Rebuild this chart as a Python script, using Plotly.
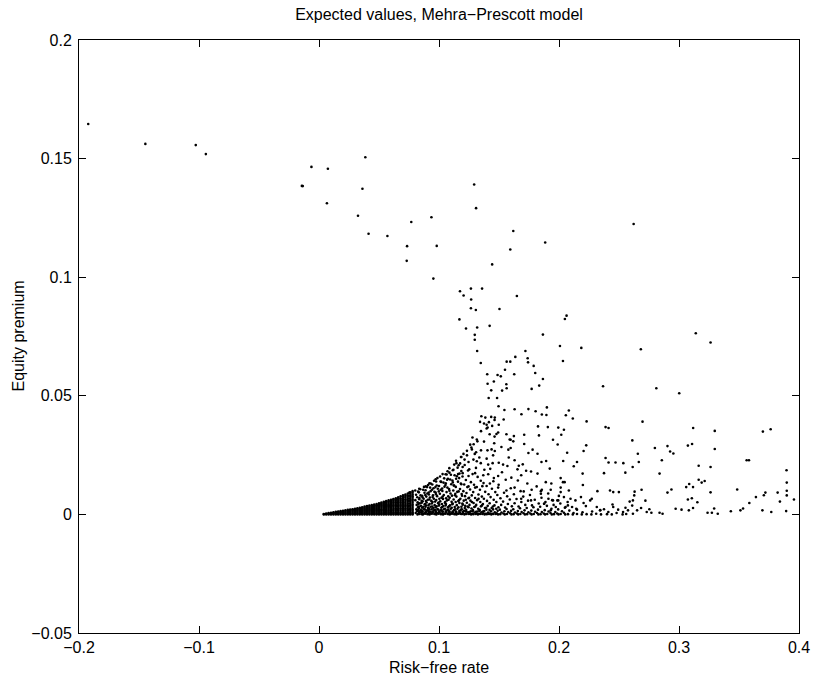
import plotly.graph_objects as go

# Expected risk-free rate and equity premium, one dot per parameter draw.

# Sparse draws: the upper-left tail and the neck above the cloud
upper_tail = [
    (-0.1923, 0.1646), (-0.1447, 0.1562), (-0.1027, 0.1557), (-0.0943, 0.1519),
    (0.0386, 0.1506), (-0.0063, 0.1465), (0.0074, 0.1457), (-0.0143, 0.1385),
    (-0.0135, 0.1384), (0.0362, 0.1373), (0.0066, 0.1312), (0.0325, 0.1259),
    (0.0413, 0.1183), (0.0570, 0.1174), (0.1293, 0.1391), (0.1309, 0.1291),
    (0.0937, 0.1253), (0.0769, 0.1233), (0.2622, 0.1224), (0.1619, 0.1195),
    (0.1885, 0.1146), (0.0734, 0.1131), (0.0981, 0.1132), (0.1594, 0.1117),
    (0.0731, 0.1069), (0.1443, 0.1054), (0.0953, 0.0994), (0.1266, 0.0952),
    (0.1359, 0.0952), (0.1175, 0.0941), (0.1205, 0.0923), (0.1268, 0.0906),
    (0.1649, 0.0921), (0.1266, 0.0869), (0.1307, 0.0862), (0.1504, 0.0866),
    (0.1170, 0.0822), (0.2063, 0.0838), (0.2049, 0.0824), (0.1422, 0.0795),
    (0.1225, 0.0784), (0.1318, 0.0788), (0.1298, 0.0757), (0.1866, 0.0758),
    (0.1298, 0.0736), (0.2008, 0.0710), (0.2186, 0.0702), (0.3140, 0.0764),
    (0.3263, 0.0725), (0.2682, 0.0696), (0.1318, 0.0689), (0.1720, 0.0689),
    (0.1348, 0.0638), (0.1564, 0.0644), (0.1594, 0.0644), (0.1636, 0.0664),
    (0.1739, 0.0658), (0.1742, 0.0641), (0.2033, 0.0647), (0.1789, 0.0626),
    (0.1550, 0.0610), (0.1402, 0.0591), (0.1488, 0.0588), (0.1515, 0.0582),
    (0.1627, 0.0591), (0.1802, 0.0596), (0.1866, 0.0571), (0.1835, 0.0543),
    (0.1405, 0.0551), (0.1457, 0.0560), (0.1561, 0.0549), (0.1772, 0.0529),
    (0.1435, 0.0523), (0.1526, 0.0522), (0.1564, 0.0532), (0.2367, 0.0540),
    (0.2811, 0.0532), (0.3002, 0.0511), (0.1414, 0.0491), (0.1484, 0.0491),
    (0.1496, 0.0456), (0.1545, 0.0440), (0.1630, 0.0443), (0.1687, 0.0422),
    (0.1745, 0.0444), (0.1805, 0.0435), (0.1857, 0.0421), (0.1895, 0.0419),
    (0.1899, 0.0451), (0.2057, 0.0418), (0.2082, 0.0438), (0.2115, 0.0404),
    (0.2230, 0.0392), (0.1353, 0.0414), (0.1386, 0.0408), (0.1435, 0.0411),
    (0.1465, 0.0408), (0.1342, 0.0390), (0.1397, 0.0378), (0.1463, 0.0398),
    (0.2388, 0.0368), (0.2413, 0.0364), (0.2696, 0.0391), (0.3118, 0.0364),
    (0.3298, 0.0352), (0.3699, 0.0349), (0.3764, 0.0359), (0.1405, 0.0366),
]

# Scattered draws in the fan to the right of the cloud
right_fan = [
    (0.2611, 0.0312), (0.2799, 0.0280), (0.2904, 0.0288), (0.2926, 0.0265),
    (0.2953, 0.0257), (0.3074, 0.0290), (0.3109, 0.0297), (0.3298, 0.0276),
    (0.2227, 0.0291), (0.2205, 0.0267), (0.2150, 0.0221), (0.2123, 0.0203),
    (0.2388, 0.0238), (0.2413, 0.0219), (0.2471, 0.0219), (0.2536, 0.0216),
    (0.2657, 0.0256), (0.2665, 0.0221), (0.2614, 0.0200), (0.2857, 0.0228),
    (0.3164, 0.0205), (0.3263, 0.0200), (0.3564, 0.0228), (0.3583, 0.0228),
    (0.3896, 0.0186), (0.3898, 0.0134), (0.3898, 0.0100), (0.2375, 0.0174),
    (0.2553, 0.0176), (0.2838, 0.0172), (0.2197, 0.0172), (0.2199, 0.0124),
    (0.3164, 0.0146), (0.3189, 0.0134), (0.3214, 0.0141), (0.3085, 0.0128),
    (0.3060, 0.0115), (0.2937, 0.0105), (0.2904, 0.0092), (0.3117, 0.0115),
    (0.3107, 0.0068), (0.3263, 0.0093), (0.3485, 0.0105), (0.3707, 0.0081),
    (0.3720, 0.0092), (0.3822, 0.0092), (0.3841, 0.0054), (0.3898, 0.0080),
    (0.3958, 0.0063), (0.3641, 0.0073), (0.3586, 0.0048), (0.3534, 0.0025),
    (0.3512, 0.0017), (0.3432, 0.0013), (0.3695, 0.0017), (0.3769, 0.0010),
    (0.3893, 0.0014), (0.3238, 0.0007), (0.3274, 0.0007), (0.3323, 0.0003),
    (0.3293, 0.0025), (0.2972, 0.0024), (0.3021, 0.0020), (0.3082, 0.0017),
    (0.3117, 0.0027), (0.3153, 0.0051), (0.3074, 0.0063), (0.2838, 0.0007),
    (0.2863, 0.0003), (0.2731, 0.0010), (0.2753, 0.0022), (0.2770, 0.0007),
    (0.2630, 0.0096), (0.2627, 0.0080), (0.2688, 0.0104), (0.2720, 0.0058),
    (0.2684, 0.0027), (0.2651, 0.0017), (0.2610, 0.0037), (0.2589, 0.0054),
    (0.2616, 0.0059), (0.2425, 0.0101), (0.2452, 0.0094), (0.2499, 0.0094),
    (0.2320, 0.0098), (0.2183, 0.0073), (0.2205, 0.0048), (0.2260, 0.0059),
    (0.2273, 0.0066), (0.2096, 0.0066), (0.2137, 0.0059), (0.2074, 0.0038),
    (0.2109, 0.0031), (0.2150, 0.0020), (0.2033, 0.0136), (0.2014, 0.0094),
    (0.2041, 0.0073), (0.1994, 0.0059), (0.1912, 0.0066), (0.1950, 0.0059),
    (0.1973, 0.0031), (0.1931, 0.0017), (0.1876, 0.0045), (0.1849, 0.0087),
    (0.1857, 0.0104), (0.2315, 0.0031), (0.2342, 0.0017), (0.2375, 0.0022),
    (0.2411, 0.0010), (0.2452, 0.0031), (0.2493, 0.0020), (0.2534, 0.0010),
    (0.2575, 0.0017), (0.2616, 0.0003),
]

# Speckle between the floor band and the neck
mid_speckle = [
    (0.1539, 0.0400), (0.1375, 0.0383), (0.1416, 0.0389), (0.1443, 0.0373),
    (0.1994, 0.0366), (0.2041, 0.0357), (0.1350, 0.0351), (0.1397, 0.0362),
    (0.1422, 0.0338), (0.1479, 0.0339), (0.1493, 0.0345), (0.1589, 0.0316),
    (0.1624, 0.0330), (0.1315, 0.0316), (0.1260, 0.0294), (0.1274, 0.0274),
    (0.1350, 0.0270), (0.1309, 0.0262), (0.1438, 0.0274), (0.1465, 0.0267),
    (0.1451, 0.0249), (0.1520, 0.0284), (0.1597, 0.0280), (0.1578, 0.0273),
    (0.1710, 0.0297), (0.1745, 0.0259), (0.1780, 0.0273), (0.1821, 0.0256),
    (0.1854, 0.0221), (0.1893, 0.0225), (0.1923, 0.0193), (0.2035, 0.0225),
    (0.2068, 0.0260), (0.1186, 0.0242), (0.1213, 0.0231), (0.1233, 0.0249),
    (0.1246, 0.0221), (0.1287, 0.0231), (0.1315, 0.0224), (0.1348, 0.0216),
    (0.1145, 0.0216), (0.1164, 0.0207), (0.1197, 0.0200), (0.1397, 0.0235),
    (0.1410, 0.0210), (0.1447, 0.0216), (0.1498, 0.0218), (0.1534, 0.0210),
    (0.1570, 0.0204), (0.1630, 0.0228), (0.1665, 0.0205), (0.1698, 0.0211),
    (0.1726, 0.0184), (0.1767, 0.0181), (0.1821, 0.0172), (0.1115, 0.0186),
    (0.1087, 0.0176), (0.1055, 0.0169), (0.1159, 0.0170), (0.1197, 0.0174),
    (0.1246, 0.0162), (0.1301, 0.0174), (0.1369, 0.0165), (0.1410, 0.0169),
    (0.1457, 0.0153), (0.1493, 0.0162), (0.1556, 0.0146), (0.1603, 0.0155),
    (0.1657, 0.0143), (0.1685, 0.0165), (0.2014, 0.0153), (0.2047, 0.0136),
    (0.1890, 0.0136), (0.1936, 0.0130), (0.0972, 0.0148), (0.1013, 0.0139),
    (0.1068, 0.0146), (0.0931, 0.0130), (0.0890, 0.0118), (0.0835, 0.0108),
    (0.0802, 0.0101), (0.0753, 0.0092), (0.1123, 0.0122), (0.1186, 0.0127),
    (0.1246, 0.0118), (0.1301, 0.0113), (0.1361, 0.0119), (0.1424, 0.0130),
    (0.1493, 0.0113), (0.1562, 0.0101), (0.1630, 0.0113), (0.1706, 0.0097),
    (0.1772, 0.0104), (0.1849, 0.0098), (0.1931, 0.0104), (0.2014, 0.0113),
    (0.2082, 0.0101), (0.1685, 0.0066), (0.1767, 0.0059), (0.1876, 0.0045),
    (0.1986, 0.0059), (0.2055, 0.0031), (0.1498, 0.0378), (0.1562, 0.0338),
    (0.1710, 0.0336), (0.1825, 0.0371), (0.1833, 0.0333), (0.1907, 0.0368),
    (0.2019, 0.0336), (0.1950, 0.0315), (0.1989, 0.0295), (0.1463, 0.0328),
    (0.1597, 0.0315), (0.1619, 0.0308), (0.1279, 0.0324), (0.1320, 0.0308),
    (0.1375, 0.0307),
]

# Solid tip of the cloud at the origin: risk-free rate -> premiums
wedge_tip = {
    0.004: [0.0000, 0.0002],
    0.006: [0.0000, 0.0004],
    0.008: [0.0000, 0.0003, 0.0006],
    0.010: [0.0000, 0.0004, 0.0007],
    0.012: [0.0000, 0.0003, 0.0006, 0.0009],
    0.014: [0.0000, 0.0004, 0.0008, 0.0011],
    0.016: [0.0000, 0.0003, 0.0007, 0.0010, 0.0012],
    0.018: [0.0000, 0.0004, 0.0008, 0.0011, 0.0014],
    0.020: [0.0000, 0.0003, 0.0007, 0.0011, 0.0015],
    0.022: [0.0000, 0.0004, 0.0008, 0.0012, 0.0017],
    0.024: [0.0000, 0.0003, 0.0007, 0.0011, 0.0015, 0.0019],
    0.026: [0.0000, 0.0004, 0.0008, 0.0012, 0.0016, 0.0020],
    0.028: [0.0000, 0.0003, 0.0007, 0.0011, 0.0015, 0.0019, 0.0022],
    0.030: [0.0000, 0.0004, 0.0008, 0.0012, 0.0016, 0.0020, 0.0024],
    0.032: [0.0000, 0.0003, 0.0007, 0.0011, 0.0015, 0.0019, 0.0023, 0.0026],
    0.034: [0.0000, 0.0004, 0.0008, 0.0012, 0.0016, 0.0020, 0.0024, 0.0028],
    0.036: [0.0000, 0.0003, 0.0007, 0.0011, 0.0015, 0.0019, 0.0023, 0.0027, 0.0030],
    0.038: [0.0000, 0.0004, 0.0008, 0.0012, 0.0016, 0.0020, 0.0024, 0.0028, 0.0033],
    0.040: [0.0000, 0.0003, 0.0007, 0.0011, 0.0015, 0.0019, 0.0023, 0.0027, 0.0031, 0.0035],
    0.042: [0.0000, 0.0004, 0.0008, 0.0012, 0.0016, 0.0020, 0.0024, 0.0028, 0.0032, 0.0037],
    0.044: [0.0000, 0.0003, 0.0007, 0.0011, 0.0015, 0.0019, 0.0023, 0.0027, 0.0031, 0.0035, 0.0039],
    0.046: [0.0000, 0.0004, 0.0008, 0.0012, 0.0016, 0.0020, 0.0024, 0.0028, 0.0032, 0.0036, 0.0041],
    0.048: [0.0000, 0.0003, 0.0007, 0.0011, 0.0015, 0.0019, 0.0023, 0.0027, 0.0031, 0.0035, 0.0039, 0.0044],
    0.050: [0.0000, 0.0004, 0.0008, 0.0012, 0.0017, 0.0022, 0.0027, 0.0032, 0.0037, 0.0042, 0.0047],
    0.052: [0.0000, 0.0003, 0.0007, 0.0012, 0.0017, 0.0022, 0.0027, 0.0032, 0.0037, 0.0042, 0.0046, 0.0050],
    0.054: [0.0000, 0.0004, 0.0009, 0.0014, 0.0019, 0.0024, 0.0029, 0.0034, 0.0039, 0.0044, 0.0049, 0.0053],
    0.056: [0.0000, 0.0003, 0.0008, 0.0013, 0.0018, 0.0023, 0.0028, 0.0033, 0.0038, 0.0043, 0.0048, 0.0052, 0.0056],
    0.058: [0.0000, 0.0004, 0.0009, 0.0014, 0.0019, 0.0024, 0.0029, 0.0034, 0.0039, 0.0044, 0.0049, 0.0054, 0.0059],
    0.060: [0.0000, 0.0003, 0.0008, 0.0013, 0.0018, 0.0023, 0.0028, 0.0033, 0.0038, 0.0043, 0.0048, 0.0053, 0.0058, 0.0062],
    0.062: [0.0000, 0.0004, 0.0009, 0.0015, 0.0021, 0.0027, 0.0033, 0.0039, 0.0045, 0.0051, 0.0057, 0.0062, 0.0065],
    0.064: [0.0000, 0.0003, 0.0008, 0.0014, 0.0020, 0.0026, 0.0032, 0.0038, 0.0044, 0.0050, 0.0056, 0.0062, 0.0068],
    0.066: [0.0000, 0.0004, 0.0009, 0.0015, 0.0021, 0.0027, 0.0033, 0.0039, 0.0045, 0.0051, 0.0057, 0.0063, 0.0068, 0.0072],
    0.068: [0.0000, 0.0003, 0.0008, 0.0014, 0.0020, 0.0026, 0.0032, 0.0038, 0.0044, 0.0050, 0.0056, 0.0062, 0.0068, 0.0076],
    0.070: [0.0000, 0.0004, 0.0009, 0.0015, 0.0021, 0.0027, 0.0033, 0.0039, 0.0045, 0.0051, 0.0057, 0.0063, 0.0069, 0.0075, 0.0080],
    0.072: [0.0000, 0.0003, 0.0008, 0.0014, 0.0020, 0.0026, 0.0032, 0.0038, 0.0044, 0.0050, 0.0057, 0.0064, 0.0071, 0.0078, 0.0084],
    0.074: [0.0000, 0.0004, 0.0009, 0.0015, 0.0021, 0.0027, 0.0033, 0.0039, 0.0046, 0.0053, 0.0060, 0.0067, 0.0074, 0.0081, 0.0088],
    0.076: [0.0000, 0.0003, 0.0008, 0.0014, 0.0020, 0.0026, 0.0032, 0.0039, 0.0046, 0.0053, 0.0060, 0.0067, 0.0074, 0.0081, 0.0088, 0.0093],
    0.078: [0.0000, 0.0004, 0.0009, 0.0015, 0.0021, 0.0028, 0.0035, 0.0042, 0.0049, 0.0056, 0.0063, 0.0070, 0.0077, 0.0084, 0.0091, 0.0098],
}

# Looser body of the cloud, rf 0.08-0.12, as (rates, premiums) strips
wedge_body = [
    ([0.0821, 0.0806, 0.0817, 0.0811, 0.0825, 0.0814, 0.0822, 0.0803, 0.0819, 0.0809, 0.0826],
     [0.0000, 0.0006, 0.0013, 0.0021, 0.0030, 0.0040, 0.0051, 0.0060, 0.0072, 0.0083, 0.0096]),
    ([0.0838, 0.0851, 0.0845, 0.0834, 0.0849, 0.0840, 0.0855, 0.0837, 0.0846, 0.0832, 0.0844],
     [0.0002, 0.0009, 0.0017, 0.0026, 0.0036, 0.0047, 0.0057, 0.0069, 0.0080, 0.0093, 0.0106]),
    ([0.0866, 0.0877, 0.0862, 0.0874, 0.0869, 0.0881, 0.0864, 0.0872, 0.0860, 0.0879, 0.0868, 0.0875],
     [0.0000, 0.0005, 0.0013, 0.0022, 0.0032, 0.0043, 0.0055, 0.0066, 0.0078, 0.0091, 0.0104, 0.0116]),
    ([0.0904, 0.0893, 0.0901, 0.0908, 0.0890, 0.0897, 0.0906, 0.0894, 0.0903, 0.0888, 0.0900, 0.0909],
     [0.0001, 0.0008, 0.0017, 0.0027, 0.0038, 0.0050, 0.0062, 0.0075, 0.0088, 0.0102, 0.0115, 0.0124]),
    ([0.0922, 0.0933, 0.0925, 0.0918, 0.0931, 0.0921, 0.0936, 0.0924, 0.0916, 0.0930, 0.0926, 0.0920],
     [0.0000, 0.0005, 0.0012, 0.0021, 0.0032, 0.0044, 0.0057, 0.0071, 0.0084, 0.0098, 0.0113, 0.0131]),
    ([0.0961, 0.0949, 0.0958, 0.0952, 0.0964, 0.0946, 0.0957, 0.0950, 0.0962, 0.0954, 0.0944, 0.0959],
     [0.0002, 0.0009, 0.0017, 0.0027, 0.0039, 0.0052, 0.0066, 0.0081, 0.0095, 0.0110, 0.0126, 0.0142]),
    ([0.0978, 0.0989, 0.0975, 0.0986, 0.0980, 0.0993, 0.0977, 0.0984, 0.0972, 0.0990, 0.0981, 0.0976, 0.0987],
     [0.0000, 0.0005, 0.0013, 0.0023, 0.0034, 0.0047, 0.0061, 0.0077, 0.0092, 0.0108, 0.0122, 0.0139, 0.0153]),
    ([0.1016, 0.1005, 0.1013, 0.1019, 0.1002, 0.1010, 0.1021, 0.1007, 0.1014, 0.1000, 0.1018, 0.1009],
     [0.0001, 0.0008, 0.0017, 0.0028, 0.0041, 0.0055, 0.0070, 0.0087, 0.0104, 0.0120, 0.0137, 0.0160]),
    ([0.1034, 0.1045, 0.1031, 0.1042, 0.1036, 0.1049, 0.1033, 0.1040, 0.1028, 0.1046, 0.1037, 0.1043, 0.1030],
     [0.0000, 0.0004, 0.0012, 0.0022, 0.0035, 0.0049, 0.0065, 0.0082, 0.0099, 0.0117, 0.0134, 0.0152, 0.0170]),
    ([0.1072, 0.1061, 0.1069, 0.1075, 0.1058, 0.1066, 0.1077, 0.1063, 0.1070, 0.1056, 0.1074, 0.1064, 0.1071],
     [0.0002, 0.0009, 0.0018, 0.0030, 0.0044, 0.0059, 0.0076, 0.0094, 0.0113, 0.0131, 0.0150, 0.0168, 0.0182]),
    ([0.1090, 0.1101, 0.1087, 0.1098, 0.1092, 0.1105, 0.1089, 0.1096, 0.1084, 0.1102, 0.1093, 0.1099, 0.1086],
     [0.0000, 0.0005, 0.0013, 0.0024, 0.0038, 0.0053, 0.0070, 0.0088, 0.0107, 0.0127, 0.0147, 0.0167, 0.0195]),
    ([0.1128, 0.1117, 0.1125, 0.1131, 0.1114, 0.1122, 0.1133, 0.1119, 0.1126, 0.1112, 0.1130, 0.1120, 0.1127],
     [0.0001, 0.0008, 0.0018, 0.0031, 0.0046, 0.0063, 0.0081, 0.0101, 0.0122, 0.0143, 0.0165, 0.0188, 0.0210]),
    ([0.1146, 0.1157, 0.1143, 0.1154, 0.1148, 0.1161, 0.1145, 0.1152, 0.1140, 0.1158, 0.1149, 0.1155, 0.1142],
     [0.0000, 0.0004, 0.0012, 0.0024, 0.0039, 0.0056, 0.0075, 0.0095, 0.0116, 0.0138, 0.0161, 0.0197, 0.0226]),
    ([0.1184, 0.1173, 0.1181, 0.1187, 0.1170, 0.1178, 0.1189, 0.1175, 0.1182, 0.1168, 0.1186, 0.1176, 0.1183],
     [0.0002, 0.0009, 0.0019, 0.0032, 0.0048, 0.0066, 0.0086, 0.0107, 0.0130, 0.0153, 0.0183, 0.0215, 0.0242]),
]

# Extra draws packed into the lower half of the body, rf 0.083-0.148
body_fill = [
    ([0.0829, 0.0833, 0.0826, 0.0831, 0.0828, 0.0835],
     [0.0003, 0.0010, 0.0018, 0.0033, 0.0044, 0.0064]),
    ([0.0857, 0.0861, 0.0854, 0.0859, 0.0856, 0.0863],
     [0.0001, 0.0011, 0.0017, 0.0028, 0.0049, 0.0071]),
    ([0.0885, 0.0889, 0.0882, 0.0887, 0.0884, 0.0891, 0.0886],
     [0.0003, 0.0012, 0.0021, 0.0032, 0.0044, 0.0056, 0.0082]),
    ([0.0913, 0.0917, 0.0910, 0.0915, 0.0912, 0.0919, 0.0914],
     [0.0002, 0.0009, 0.0015, 0.0026, 0.0038, 0.0063, 0.0092]),
    ([0.0941, 0.0945, 0.0938, 0.0943, 0.0940, 0.0947, 0.0942],
     [0.0003, 0.0012, 0.0022, 0.0033, 0.0046, 0.0073, 0.0104]),
    ([0.0969, 0.0973, 0.0966, 0.0971, 0.0968, 0.0975, 0.0970],
     [0.0002, 0.0009, 0.0019, 0.0030, 0.0054, 0.0085, 0.0115]),
    ([0.0997, 0.1001, 0.0994, 0.0999, 0.0996, 0.1003, 0.0998],
     [0.0003, 0.0011, 0.0020, 0.0037, 0.0050, 0.0066, 0.0097]),
    ([0.1025, 0.1029, 0.1022, 0.1027, 0.1024, 0.1031, 0.1026],
     [0.0002, 0.0010, 0.0017, 0.0031, 0.0044, 0.0075, 0.0109]),
    ([0.1053, 0.1057, 0.1050, 0.1055, 0.1052, 0.1059, 0.1054],
     [0.0003, 0.0013, 0.0024, 0.0038, 0.0052, 0.0068, 0.0124]),
    ([0.1081, 0.1085, 0.1078, 0.1083, 0.1080, 0.1087],
     [0.0002, 0.0010, 0.0020, 0.0034, 0.0062, 0.0100]),
    ([0.1109, 0.1113, 0.1106, 0.1111, 0.1108, 0.1115],
     [0.0003, 0.0012, 0.0028, 0.0043, 0.0079, 0.0135]),
    ([0.1137, 0.1141, 0.1134, 0.1139, 0.1136, 0.1143],
     [0.0002, 0.0010, 0.0021, 0.0052, 0.0087, 0.0150]),
    ([0.1165, 0.1169, 0.1162, 0.1167, 0.1164, 0.1171],
     [0.0003, 0.0014, 0.0030, 0.0060, 0.0097, 0.0172]),
    ([0.1193, 0.1197, 0.1190, 0.1195, 0.1192],
     [0.0002, 0.0011, 0.0022, 0.0046, 0.0079]),
    ([0.1221, 0.1225, 0.1218, 0.1223, 0.1249, 0.1253, 0.1246, 0.1251],
     [0.0003, 0.0012, 0.0036, 0.0062, 0.0002, 0.0010, 0.0030, 0.0070]),
    ([0.1277, 0.1281, 0.1274, 0.1305, 0.1309, 0.1302, 0.1333, 0.1337, 0.1330],
     [0.0003, 0.0014, 0.0052, 0.0002, 0.0011, 0.0033, 0.0003, 0.0015, 0.0066]),
    ([0.1361, 0.1365, 0.1358, 0.1389, 0.1393, 0.1417, 0.1421, 0.1445, 0.1449, 0.1473, 0.1477],
     [0.0002, 0.0012, 0.0038, 0.0003, 0.0028, 0.0002, 0.0019, 0.0003, 0.0033, 0.0002, 0.0024]),
]

# Band of draws hugging the zero-premium line further right
floor_band = [
    ([0.1212, 0.1201, 0.1209, 0.1215, 0.1198, 0.1206, 0.1217, 0.1203, 0.1210, 0.1196, 0.1214, 0.1204],
     [0.0000, 0.0006, 0.0015, 0.0027, 0.0041, 0.0058, 0.0077, 0.0098, 0.0126, 0.0160, 0.0208, 0.0255]),
    ([0.1230, 0.1241, 0.1227, 0.1238, 0.1232, 0.1245, 0.1229, 0.1236, 0.1224, 0.1242, 0.1233],
     [0.0002, 0.0009, 0.0019, 0.0033, 0.0049, 0.0068, 0.0090, 0.0115, 0.0145, 0.0185, 0.0268]),
    ([0.1268, 0.1257, 0.1265, 0.1271, 0.1254, 0.1262, 0.1273, 0.1259, 0.1266, 0.1252, 0.1270],
     [0.0000, 0.0005, 0.0013, 0.0025, 0.0040, 0.0058, 0.0080, 0.0105, 0.0136, 0.0190, 0.0282]),
    ([0.1286, 0.1297, 0.1283, 0.1294, 0.1288, 0.1301, 0.1285, 0.1292, 0.1280, 0.1298, 0.1289],
     [0.0001, 0.0008, 0.0018, 0.0031, 0.0048, 0.0069, 0.0094, 0.0125, 0.0170, 0.0255, 0.0296]),
    ([0.1324, 0.1313, 0.1321, 0.1327, 0.1310, 0.1318, 0.1329, 0.1315, 0.1322, 0.1308],
     [0.0000, 0.0004, 0.0012, 0.0024, 0.0040, 0.0060, 0.0084, 0.0115, 0.0158, 0.0196]),
    ([0.1342, 0.1353, 0.1339, 0.1350, 0.1344, 0.1357, 0.1341, 0.1348, 0.1336],
     [0.0002, 0.0009, 0.0019, 0.0034, 0.0052, 0.0075, 0.0104, 0.0142, 0.0240]),
    ([0.1380, 0.1369, 0.1377, 0.1383, 0.1366, 0.1374, 0.1385, 0.1371, 0.1378],
     [0.0000, 0.0005, 0.0014, 0.0027, 0.0044, 0.0066, 0.0095, 0.0132, 0.0188]),
    ([0.1398, 0.1409, 0.1395, 0.1406, 0.1400, 0.1413, 0.1397, 0.1404],
     [0.0001, 0.0008, 0.0020, 0.0036, 0.0057, 0.0085, 0.0120, 0.0270]),
    ([0.1436, 0.1425, 0.1433, 0.1439, 0.1422, 0.1430, 0.1441, 0.1427],
     [0.0000, 0.0004, 0.0013, 0.0027, 0.0047, 0.0073, 0.0108, 0.0192]),
    ([0.1454, 0.1465, 0.1451, 0.1462, 0.1456, 0.1469, 0.1453, 0.1460],
     [0.0002, 0.0009, 0.0021, 0.0038, 0.0062, 0.0094, 0.0140, 0.0300]),
    ([0.1492, 0.1481, 0.1489, 0.1495, 0.1478, 0.1486, 0.1497],
     [0.0000, 0.0005, 0.0015, 0.0030, 0.0052, 0.0082, 0.0125]),
    ([0.1510, 0.1521, 0.1507, 0.1518, 0.1512, 0.1525],
     [0.0001, 0.0008, 0.0020, 0.0040, 0.0068, 0.0178]),
    ([0.1548, 0.1537, 0.1545, 0.1551, 0.1534, 0.1542],
     [0.0000, 0.0004, 0.0013, 0.0029, 0.0054, 0.0091]),
    ([0.1566, 0.1577, 0.1563, 0.1574, 0.1568, 0.1581],
     [0.0002, 0.0010, 0.0023, 0.0044, 0.0076, 0.0240]),
    ([0.1604, 0.1593, 0.1601, 0.1607, 0.1590, 0.1598],
     [0.0000, 0.0005, 0.0015, 0.0034, 0.0063, 0.0110]),
    ([0.1622, 0.1633, 0.1619, 0.1630, 0.1624],
     [0.0001, 0.0008, 0.0022, 0.0047, 0.0085]),
    ([0.1660, 0.1649, 0.1657, 0.1663, 0.1646, 0.1654],
     [0.0000, 0.0004, 0.0014, 0.0033, 0.0065, 0.0190]),
    ([0.1678, 0.1689, 0.1675, 0.1686, 0.1680],
     [0.0002, 0.0010, 0.0026, 0.0052, 0.0098]),
    ([0.1716, 0.1705, 0.1713, 0.1719, 0.1702],
     [0.0000, 0.0005, 0.0017, 0.0040, 0.0075]),
    ([0.1734, 0.1745, 0.1731, 0.1742, 0.1736],
     [0.0001, 0.0009, 0.0027, 0.0058, 0.0130]),
    ([0.1772, 0.1761, 0.1769, 0.1775, 0.1758],
     [0.0000, 0.0004, 0.0016, 0.0038, 0.0082]),
    ([0.1790, 0.1801, 0.1787, 0.1798],
     [0.0002, 0.0011, 0.0030, 0.0062]),
    ([0.1828, 0.1817, 0.1825, 0.1831, 0.1814],
     [0.0000, 0.0006, 0.0020, 0.0046, 0.0118]),
    ([0.1846, 0.1857, 0.1843, 0.1854],
     [0.0001, 0.0010, 0.0032, 0.0070]),
    ([0.1884, 0.1873, 0.1881, 0.1887],
     [0.0000, 0.0004, 0.0018, 0.0052]),
    ([0.1902, 0.1913, 0.1899, 0.1910],
     [0.0002, 0.0012, 0.0036, 0.0088]),
    ([0.1940, 0.1929, 0.1937, 0.1943],
     [0.0000, 0.0006, 0.0024, 0.0060]),
    ([0.1958, 0.1969, 0.1955],
     [0.0001, 0.0010, 0.0040]),
    ([0.1996, 0.1985, 0.1993, 0.1999],
     [0.0000, 0.0004, 0.0021, 0.0078]),
    ([0.2014, 0.2025, 0.2011],
     [0.0002, 0.0013, 0.0046]),
    ([0.2052, 0.2041, 0.2049],
     [0.0000, 0.0007, 0.0028]),
    ([0.2075, 0.2086, 0.2072],
     [0.0001, 0.0016, 0.0052]),
    ([0.2115, 0.2121, 0.2150, 0.2144, 0.2190, 0.2196, 0.2230, 0.2224, 0.2270, 0.2276],
     [0.0000, 0.0006, 0.0002, 0.0024, 0.0000, 0.0009, 0.0001, 0.0035, 0.0000, 0.0012]),
    ([0.2310, 0.2350, 0.2344, 0.2400, 0.2440, 0.2446, 0.2480, 0.2530, 0.2560, 0.2554],
     [0.0003, 0.0000, 0.0018, 0.0001, 0.0000, 0.0042, 0.0006, 0.0000, 0.0002, 0.0028]),
]

x_tick_vals = [-0.2, -0.1, 0, 0.1, 0.2, 0.3, 0.4]
x_tick_text = ["\u22120.2", "\u22120.1", "0", "0.1", "0.2", "0.3", "0.4"]
y_tick_vals = [-0.05, 0, 0.05, 0.1, 0.15, 0.2]
y_tick_text = ["\u22120.05", "0", "0.05", "0.1", "0.15", "0.2"]

risk_free = []
premium = []
for group in (upper_tail, right_fan, mid_speckle):
    for rf, ep in group:
        risk_free.append(rf)
        premium.append(ep)
for rf, eps in wedge_tip.items():
    for ep in eps:
        risk_free.append(rf)
        premium.append(ep)
for strips in (wedge_body, body_fill, floor_band):
    for rates, prems in strips:
        risk_free.extend(rates)
        premium.extend(prems)

FONT = "Liberation Sans, Arial, Helvetica, sans-serif"

fig = go.Figure(
    go.Scatter(
        x=risk_free,
        y=premium,
        mode="markers",
        marker=dict(size=2.6, color="black", line=dict(width=0)),
        hoverinfo="x+y",
    )
)

axis_common = dict(
    showline=True,
    linecolor="black",
    linewidth=1,
    mirror="ticks",
    ticks="inside",
    ticklen=7,
    tickwidth=1,
    tickcolor="black",
    showgrid=False,
    zeroline=False,
    tickfont=dict(family=FONT, size=16, color="black"),
)

fig.update_xaxes(
    range=[-0.2, 0.4],
    tickvals=x_tick_vals,
    ticktext=x_tick_text,
    ticklabelstandoff=0,
    **axis_common,
)
fig.update_yaxes(
    range=[-0.05, 0.2],
    tickvals=y_tick_vals,
    ticktext=y_tick_text,
    ticklabelstandoff=3,
    **axis_common,
)

fig.update_layout(
    width=822,
    height=677,
    margin=dict(l=79, r=14, t=40, b=44, pad=0),
    paper_bgcolor="white",
    plot_bgcolor="white",
    showlegend=False,
    font=dict(family=FONT, color="black"),
    title=dict(
        text="Expected values, Mehra\u2212Prescott model",
        font=dict(family=FONT, size=16, color="black"),
        x=0.5,
        xref="paper",
        xanchor="center",
        y=1 - 14 / 677,
        yref="container",
        yanchor="middle",
    ),
    annotations=[
        dict(
            text="Risk\u2212free rate",
            x=0.5, xref="paper", xanchor="center",
            y=0, yref="paper", yanchor="middle", yshift=-34,
            showarrow=False,
            font=dict(family=FONT, size=16, color="black"),
        ),
        dict(
            text="Equity premium",
            x=0, xref="paper", xanchor="center", xshift=-61,
            y=0.5, yref="paper", yanchor="middle",
            textangle=-90,
            showarrow=False,
            font=dict(family=FONT, size=16, color="black"),
        ),
    ],
)

fig.write_html("out.html")
